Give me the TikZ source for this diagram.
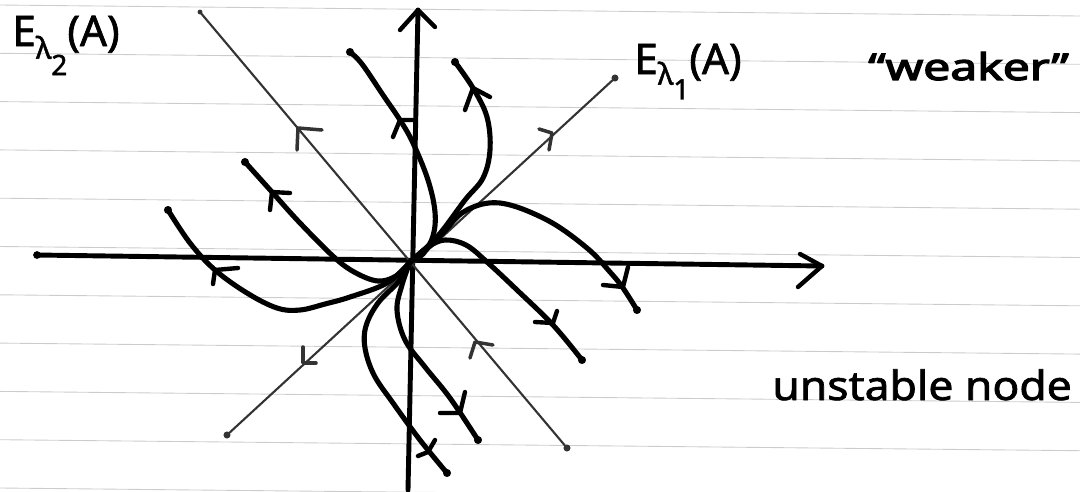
\documentclass[tikz,border=0pt]{standalone}
\usepackage{fontspec}
\setmainfont{Noto Sans}
\newfontfamily\handfont[FakeBold=1.6]{Noto Sans}
\newfontfamily\handbold[FakeBold=3.2]{Noto Sans}
\begin{document}
\begin{tikzpicture}[x=0.02cm,y=-0.02cm,
  traj/.style={line width=2.9pt, line cap=round, line join=round},
  eig/.style={line width=1.2pt, black!80, line cap=round},
  axisline/.style={line width=2.8pt, line cap=round},
  barb/.style={line width=2.5pt, line cap=round, line join=round},
  eigbarb/.style={line width=2pt, black!80, line cap=round, line join=round},
  paper/.style={gray!40, line width=0.5pt},
  lbl/.style={anchor=base west, inner sep=0pt}]
\useasboundingbox (0,0) rectangle (1080,491);
% ruled paper
\foreach \k in {0,...,10} \draw[paper] (0,{5+48.3*\k}) -- (1080,{16+48.3*\k});

\coordinate (O) at (410,262);
% axes
\coordinate (xl) at (37,255);
\coordinate (xr) at (822,266);
\coordinate (yt) at (418,10);
\coordinate (yb) at (408,490);
\draw[axisline] (xl) -- (xr);
\draw[axisline] (yb) -- (yt);
\fill (xl) circle (2.2pt);
\draw[barb] (800,254) -- (xr) -- (798,287);
\draw[barb] (400,30) -- (yt) -- (435,27);

% eigenlines
\coordinate (e1a) at (227,435);
\coordinate (e1b) at (615,78);
\coordinate (e2a) at (200,12);
\coordinate (e2b) at (567,448);
\draw[eig] (e1a) -- (e1b);
\draw[eig] (e2a) -- (e2b);
\fill[black!80] (e1a) circle (2pt) (e1b) circle (2pt) (e2a) circle (1.4pt) (e2b) circle (2pt);
\draw[eigbarb] (539,129) -- (552,133) -- (549,150);
\draw[eigbarb] (303,347) -- (303,363) -- (316,363);
\draw[eigbarb] (297,150) -- (298,128) -- (322,130);
\draw[eigbarb] (470,358) -- (475,342) -- (493,345);

% trajectories
\coordinate (tE2) at (245,162);
\coordinate (tE1) at (168,210);
\coordinate (tD1) at (447,473);
\coordinate (tD2) at (478,440);
\coordinate (tA2) at (350,52);
\coordinate (tA1) at (455,62);
\coordinate (tB) at (637,310);
\coordinate (tC) at (582,360);

\draw[traj] plot[smooth, tension=0.6] coordinates {(O) (396,276) (378,281) (356,273) (335,258) (300,223) (272,192) (tE2)};
\draw[traj] plot[smooth, tension=0.6] coordinates {(O) (387,283) (350,297) (325,304) (300,310) (277,308) (247,293) (215,270) (190,243) (tE1)};
\draw[traj] plot[smooth, tension=0.6] coordinates {(O) (399,281) (378,303) (366,326) (365,348) (374,375) (393,403) (420,440) (tD1)};
\draw[traj] plot[smooth, tension=0.6] coordinates {(O) (402,285) (397,310) (405,340) (425,367) (450,398) (tD2)};
\draw[traj] plot[smooth, tension=0.6] coordinates {(O) (423,254) (433,236) (435,212) (428,180) (413,143) (400,120) (383,95) (362,64) (tA2)};
\draw[traj] plot[smooth, tension=0.6] coordinates {(O) (427,247) (442,231) (465,200) (483,178) (490,150) (487,117) (473,88) (tA1)};
\draw[traj] plot[smooth, tension=0.6] coordinates {(O) (440,236) (465,211) (500,203) (547,220) (587,248) (610,272) (623,288) (tB)};
\draw[traj] plot[smooth, tension=0.6] coordinates {(O) (428,247) (445,240) (466,245) (487,262) (517,290) (553,325) (tC)};
\foreach \p in {tE2,tE1,tD1,tD2,tA2,tA1,tB,tC} \fill (\p) circle (2.3pt);

% arrowheads on trajectories
\draw[barb] (270,210) -- (272,192) -- (290,193);
\draw[barb] (213,284) -- (215,270) -- (238,268);
\draw[barb] (393,137) -- (400,120) -- (415,120);
\draw[barb] (465,110) -- (473,88) -- (490,97);
\draw[barb] (603,285) -- (623,287) -- (628,267);
\draw[barb] (535,322) -- (553,323) -- (557,311);
\draw[barb] (440,413) -- (460,413) -- (465,392);
\draw[barb] (418,456) -- (428,452) -- (435,440);

% labels
\node[lbl] (L2) at (12,46) {\handfont\fontsize{24}{24}\selectfont E\raisebox{-0.3em}{\fontsize{17}{17}\selectfont λ\raisebox{-0.55em}{\fontsize{16}{16}\selectfont 2}}(A)};
\node[lbl] (L1) at (634,74) {\handfont\fontsize{24}{24}\selectfont E\raisebox{-0.25em}{\fontsize{17}{17}\selectfont λ\raisebox{-0.5em}{\fontsize{16}{16}\selectfont 1}}(A)};
\node[lbl] (Lw) at (868,80) {\scalebox{1.3}[1]{\handbold\fontsize{21}{21}\selectfont “weaker”}};
\node[lbl] (Lu) at (772,400) {\scalebox{1.1}[1]{\handfont\fontsize{23}{23}\selectfont unstable node}};
\end{tikzpicture}
\end{document}
